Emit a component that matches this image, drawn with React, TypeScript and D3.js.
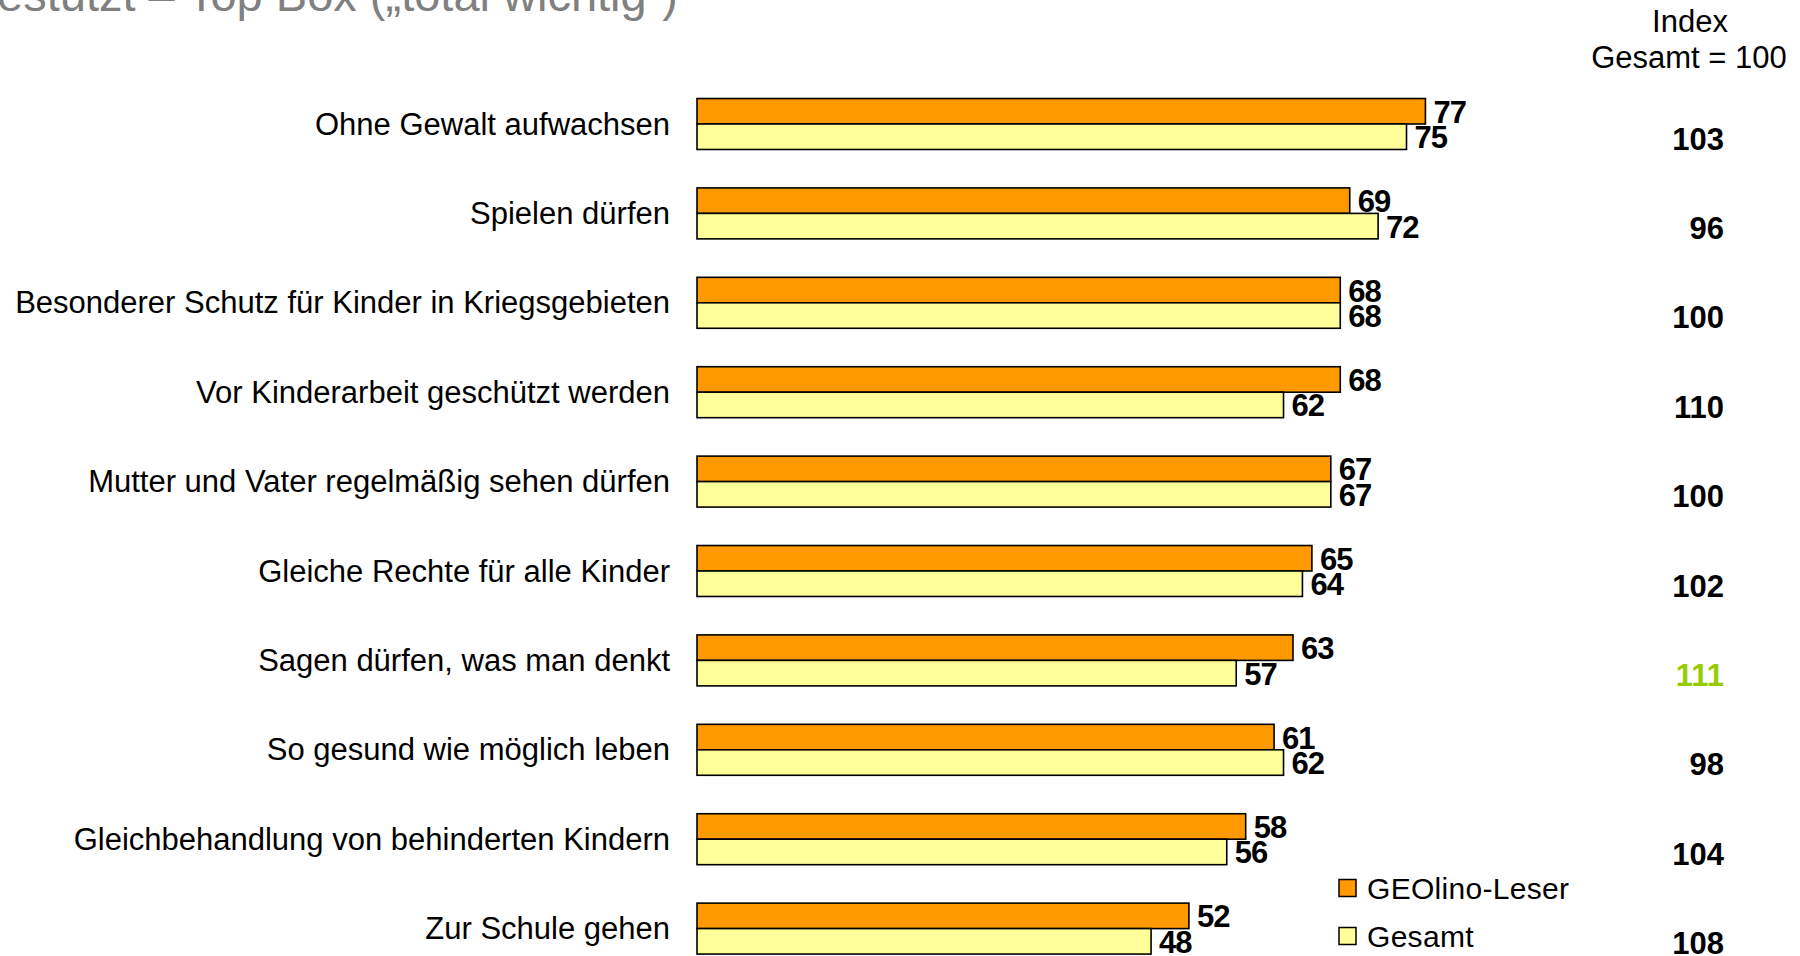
import React from 'react';
import * as d3 from 'd3';

const categories = [
  'Ohne Gewalt aufwachsen',
  'Spielen dürfen',
  'Besonderer Schutz für Kinder in Kriegsgebieten',
  'Vor Kinderarbeit geschützt werden',
  'Mutter und Vater regelmäßig sehen dürfen',
  'Gleiche Rechte für alle Kinder',
  'Sagen dürfen, was man denkt',
  'So gesund wie möglich leben',
  'Gleichbehandlung von behinderten Kindern',
  'Zur Schule gehen',
];
const geolino = [77, 69, 68, 68, 67, 65, 63, 61, 58, 52];
const gesamt = [75, 72, 68, 62, 67, 64, 57, 62, 56, 48];
const indexValues = [103, 96, 100, 110, 100, 102, 111, 98, 104, 108];
const highlightIndex = 111;

const seriesNames = ['GEOlino-Leser', 'Gesamt'];
const colors = ['#FF9900', '#FFFF99'];

const font = 'Liberation Sans, Arial, sans-serif';

export default function App() {
  const width = 1800;
  const height = 956;

  const x = d3.scaleLinear().domain([0, 100]).range([697, 1643]);
  const y = d3.scaleBand<string>()
    .domain(categories)
    .range([79.3, 973.3])
    .paddingInner(0.43)
    .paddingOuter(0.215);
  const inner = d3.scaleBand<string>()
    .domain(seriesNames)
    .range([0, y.bandwidth()]);

  const series = [geolino, gesamt];

  return (
    <svg
      width={width}
      height={height}
      style={{ position: 'absolute', left: 0, top: 0, display: 'block', background: '#fff' }}
      fontFamily={font}
    >
      <text x={678} y={11} textAnchor="end" fontSize={47} fill="#808080">
        gestützt – Top Box („total wichtig“)
      </text>

      <text x={1690} y={32} textAnchor="middle" fontSize={31}>Index</text>
      <text x={1689} y={68} textAnchor="middle" fontSize={31}>Gesamt = 100</text>

      {categories.map((c, i) => {
        const y0 = y(c) as number;
        const cy = y0 + y.bandwidth() / 2;
        return (
          <g key={c}>
            <text x={670} y={cy} textAnchor="end" dominantBaseline="central" fontSize={31}>
              {c}
            </text>
            {series.map((s, k) => {
              const by = y0 + (inner(seriesNames[k]) as number);
              return (
                <g key={k}>
                  <rect
                    x={x(0)}
                    y={by}
                    width={x(s[i]) - x(0)}
                    height={inner.bandwidth()}
                    fill={colors[k]}
                    stroke="#000"
                    strokeWidth={1.6}
                  />
                  <text
                    x={x(s[i]) + 8}
                    y={by + inner.bandwidth() / 2 + 1}
                    dominantBaseline="central"
                    fontSize={31}
                    fontWeight="bold"
                    letterSpacing={-1}
                  >
                    {s[i]}
                  </text>
                </g>
              );
            })}
            <text
              x={1724}
              y={cy + 15}
              textAnchor="end"
              dominantBaseline="central"
              fontSize={31}
              fontWeight="bold"
              fill={indexValues[i] === highlightIndex ? '#99CC00' : '#000'}
            >
              {indexValues[i]}
            </text>
          </g>
        );
      })}

      {seriesNames.map((n, k) => (
        <g key={n} transform={`translate(1339, ${888 + k * 48})`}>
          <rect x={0} y={-8.5} width={17} height={17} fill={colors[k]} stroke="#000" strokeWidth={1.5} />
          <text x={28} y={0} dominantBaseline="central" fontSize={30} letterSpacing={0.3}>{n}</text>
        </g>
      ))}
    </svg>
  );
}
